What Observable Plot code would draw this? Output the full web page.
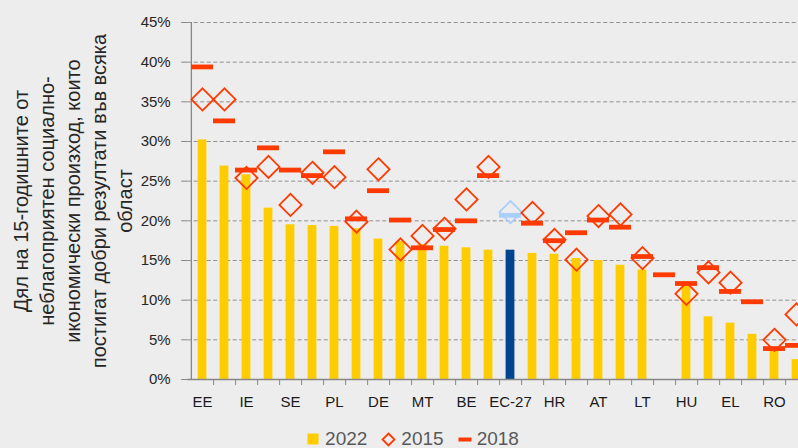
<!DOCTYPE html>
<html>
<head>
<meta charset="utf-8">
<script src="https://cdn.jsdelivr.net/npm/d3@7"></script>
<script src="https://cdn.jsdelivr.net/npm/@observablehq/plot@0.6"></script>
<style>
  html, body { margin: 0; padding: 0; background: #ededed; overflow: hidden; width: 798px; height: 448px; }
  #wrap { width: 812px; height: 420px; }
  #legend { display: flex; align-items: center; justify-content: center; height: 28px; padding-top: 5px; width: 798px; padding-left: 14px; box-sizing: content-box;
    font-family: "Liberation Sans", Arial, sans-serif; font-size: 19px; color: #595959; }
  #legend .item { display: flex; align-items: center; margin: 0 7px; }
  #legend svg { margin-right: 5px; }
</style>
</head>
<body>
<div id="wrap"></div>
<div id="legend"></div>
<script>
const categories = ["EE","FI","IE","DK","SE","SI","PL","NL","DE","CZ","MT","LV","BE","PT","EC-27","FR","HR","ES","AT","IT","LT","LU","HU","SK","EL","CY","RO","BG"];
const v2022 = [30.2, 26.9, 25.8, 21.6, 19.5, 19.4, 19.3, 19.0, 17.7, 17.4, 17.0, 16.8, 16.6, 16.3, 16.3, 15.9, 15.8, 15.25, 15.0, 14.4, 13.8, null, 11.9, 7.9, 7.1, 5.7, 3.7, 2.5];
const v2015 = [35.3, 35.3, 25.4, 26.8, 22.0, 26.05, 25.5, 19.9, 26.5, 16.4, 18.1, 19.0, 22.7, 26.8, 21.1, 21.0, 17.6, 15.1, 20.6, 20.8, 15.3, null, 10.8, 13.5, 12.2, null, 5.0, 8.2];
const v2018 = [39.4, 32.6, 26.4, 29.2, 26.4, 25.7, 28.7, 20.25, 23.8, 20.1, 16.6, 18.9, 20.0, 25.7, 20.7, 19.7, 17.5, 18.5, 20.1, 19.2, 15.5, 13.2, 12.1, 14.1, 11.1, 9.8, 3.9, 4.3];
const yTicks = [0, 5, 10, 15, 20, 25, 30, 35, 40, 45];
const yTitle = "Дял на 15-годишните от\nнеблагоприятен социално-\nикономически произход, които\nпостигат добри резултати във всяка\nобласт";
const seriesNames = ["2022", "2015", "2018"];

const yellow = "#FFCC00", navy = "#00448F", red = "#FF3A00", lightBlue = "#A8CFFF";
const euCat = "EC-27";

const data = categories.map((c, i) => ({cat: c, v2022: v2022[i], v2015: v2015[i], v2018: v2018[i]}));

const W = 812, H = 420, mL = 187.2, mR = 1.8, mT = 22, mB = 41;
const bw = (W - mL - mR) / categories.length;
const font = "'Liberation Sans', Arial, sans-serif";

const chart = Plot.plot({
  width: W, height: H,
  marginLeft: mL, marginRight: mR, marginTop: mT, marginBottom: mB,
  style: {background: "#ededed", fontFamily: font, fontSize: "15px", color: "#262626", maxWidth: "none"},
  x: {domain: categories, padding: 0, axis: null, label: null},
  y: {domain: [0, 45], axis: null, label: null},
  color: {type: "identity"},
  marks: [
    Plot.gridY(yTicks, {stroke: "#8f8f8f", strokeOpacity: 1, strokeDasharray: "4,2.5", strokeWidth: 1}),
    Plot.axisY(yTicks, {tickSize: 6, tickPadding: 11, stroke: "#868686", tickFormat: d => d + "%", fontSize: 15, fill: "#262626", label: null}),
    Plot.barY(data, {x: "cat", y: "v2022", fill: d => d.cat === euCat ? navy : yellow, insetLeft: 6.6, insetRight: 6.6}),
    Plot.ruleY([0], {stroke: "#868686", strokeWidth: 1.3}),
    Plot.ruleX([categories[0]], {dx: -bw / 2, y1: 0, y2: 45, stroke: "#868686", strokeWidth: 1.3}),
    Plot.axisX({tickSize: 6, tickFormat: () => "", dx: bw / 2, stroke: "#868686", label: null}),
    Plot.axisX({tickSize: 0, tickPadding: 17, fontSize: 15, fill: "#1a1a1a", label: null, tickFormat: d => categories.indexOf(d) % 2 === 0 ? d : ""}),
    Plot.tickY(data, {x: "cat", y: "v2018", stroke: d => d.cat === euCat ? lightBlue : red, strokeWidth: 4.8}),
    Plot.dot(data, {x: "cat", y: "v2015", symbol: "diamond2", r: 10, stroke: d => d.cat === euCat ? lightBlue : red, strokeWidth: 1.8, fill: "none"}),
    Plot.text([yTitle], {frameAnchor: "left", rotate: -90, dx: -116, fontSize: 20, lineHeight: 1.29, textAnchor: "middle", lineAnchor: "middle", fill: "#262626"})
  ]
});
document.getElementById("wrap").appendChild(chart);

// legend
const legend = document.getElementById("legend");
const symbols = [
  `<svg width="13" height="13"><rect x="0.5" y="0.5" width="11" height="11" fill="${yellow}"/></svg>`,
  `<svg width="15" height="15"><path d="M7.5,1.5L13.5,7.5L7.5,13.5L1.5,7.5Z" fill="none" stroke="${red}" stroke-width="1.8"/></svg>`,
  `<svg width="14" height="13"><rect x="0.5" y="4.5" width="13" height="4" fill="${red}"/></svg>`
];
seriesNames.forEach((name, i) => {
  const item = document.createElement("div");
  item.className = "item";
  item.innerHTML = symbols[i] + `<span>${name}</span>`;
  legend.appendChild(item);
});
</script>
</body>
</html>
